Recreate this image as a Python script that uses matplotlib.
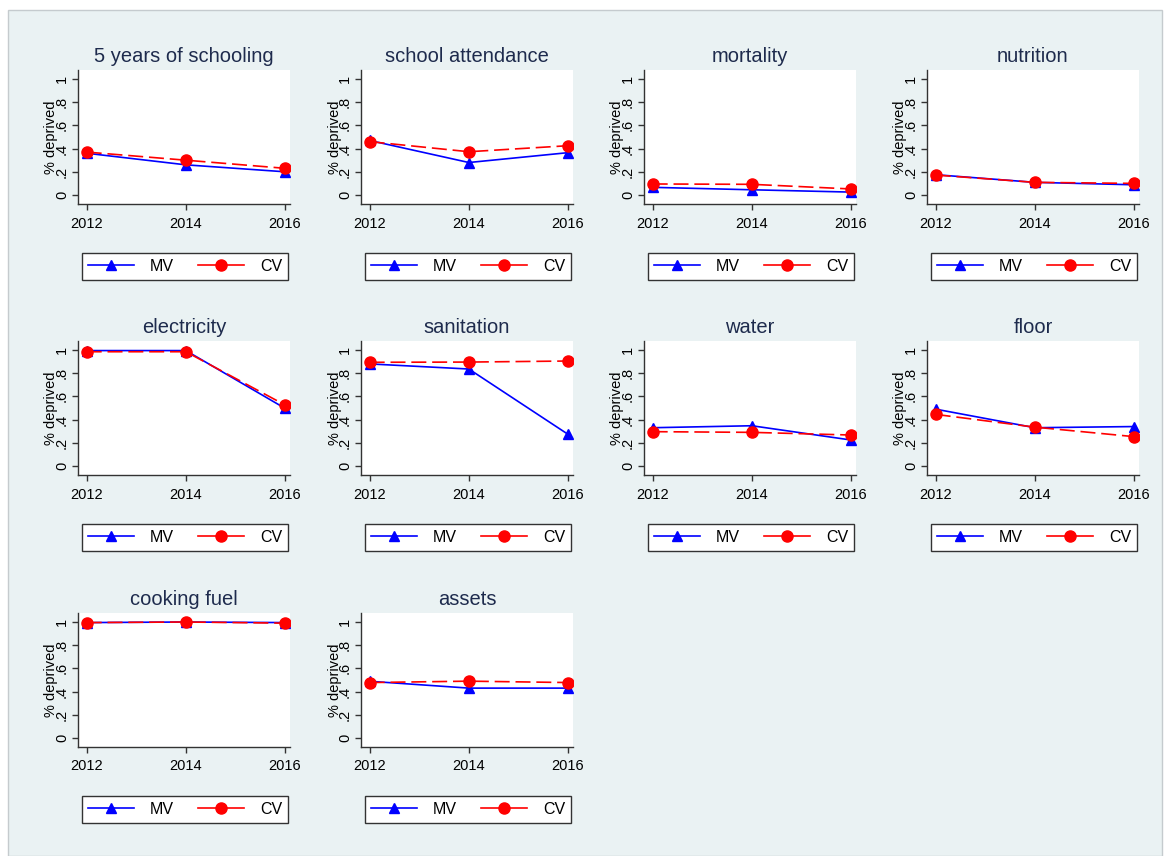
import matplotlib
matplotlib.use("Agg")
import matplotlib.pyplot as plt
from matplotlib.patches import Rectangle
from matplotlib.lines import Line2D

plt.rcParams['font.family'] = ['Liberation Sans', 'DejaVu Sans']

years = [2012, 2014, 2016]
titles = ["5 years of schooling", "school attendance", "mortality", "nutrition",
          "electricity", "sanitation", "water", "floor",
          "cooking fuel", "assets"]

mv_schooling = [0.36, 0.26, 0.20]
cv_schooling = [0.37, 0.30, 0.23]
mv_attendance = [0.47, 0.28, 0.365]
cv_attendance = [0.46, 0.373, 0.425]
mv_mortality = [0.066, 0.045, 0.025]
cv_mortality = [0.095, 0.092, 0.052]
mv_nutrition = [0.175, 0.109, 0.088]
cv_nutrition = [0.172, 0.109, 0.10]
mv_electricity = [0.995, 0.995, 0.497]
cv_electricity = [0.985, 0.985, 0.526]
mv_sanitation = [0.88, 0.836, 0.273]
cv_sanitation = [0.894, 0.896, 0.905]
mv_water = [0.33, 0.347, 0.224]
cv_water = [0.296, 0.29, 0.267]
mv_floor = [0.49, 0.33, 0.34]
cv_floor = [0.445, 0.335, 0.253]
mv_cooking = [0.995, 1.0, 0.995]
cv_cooking = [0.995, 1.0, 0.99]
mv_assets = [0.489, 0.43, 0.43]
cv_assets = [0.478, 0.49, 0.478]

mv_all = [mv_schooling, mv_attendance, mv_mortality, mv_nutrition, mv_electricity,
          mv_sanitation, mv_water, mv_floor, mv_cooking, mv_assets]
cv_all = [cv_schooling, cv_attendance, cv_mortality, cv_nutrition, cv_electricity,
          cv_sanitation, cv_water, cv_floor, cv_cooking, cv_assets]

yticks = [0, 0.2, 0.4, 0.6, 0.8, 1.0]
ytick_labels = ["0", ".2", ".4", ".6", ".8", "1"]
legend_labels = ["MV", "CV"]

W, H = 1164, 856
fig = plt.figure(figsize=(W / 100, H / 100), dpi=100)
fig.patch.set_facecolor("white")
bg = "#EAF2F3"
fig.patches.append(Rectangle((8 / W, 0), (1162 - 8) / W, (H - 10) / H,
                             transform=fig.transFigure, facecolor=bg,
                             edgecolor="#C5CBCE", linewidth=1.0, zorder=-10))

title_color = "#1E2B4D"
axis_color = "#333333"
blue = "#0000FF"
red = "#FF0000"

col_left = [78, 361, 644, 927]
row_top = [70, 341, 613]
aw, ah = 212, 134

for i, t in enumerate(titles):
    r, c = divmod(i, 4)
    x0 = col_left[c]
    y0 = row_top[r]
    ax = fig.add_axes([x0 / W, 1 - (y0 + ah) / H, aw / W, ah / H])
    ax.set_facecolor("white")
    ax.plot(years, mv_all[i], color=blue, lw=1.2, marker="^", markersize=7.5,
            markerfacecolor=blue, markeredgecolor=blue, zorder=3)
    ax.plot(years, cv_all[i], color=red, lw=1.2, dashes=(9, 3.5), marker="o",
            markersize=8, markerfacecolor=red, markeredgecolor=red, zorder=4)
    ax.set_xlim(2011.825, 2016.1)
    ax.set_ylim(-0.0776, 1.0776)
    ax.set_xticks(years)
    ax.set_xticklabels([str(y) for y in years], fontsize=10.5)
    ax.set_yticks(yticks)
    ax.set_yticklabels(ytick_labels, fontsize=10.5, rotation=90, va="center")
    for s in ["top", "right"]:
        ax.spines[s].set_visible(False)
    for s in ["left", "bottom"]:
        ax.spines[s].set_color(axis_color)
        ax.spines[s].set_linewidth(1.0)
    ax.tick_params(axis="y", direction="out", length=4.5, width=1.0,
                   color=axis_color, pad=2, labelcolor="black")
    ax.tick_params(axis="x", direction="out", length=4.5, width=1.0,
                   color=axis_color, pad=4.5, labelcolor="black")
    ax.set_title(t, fontsize=14.5, color=title_color, pad=5.5)
    ax.text(-0.125, 0.5, "% deprived", transform=ax.transAxes, rotation=90,
            ha="center", va="center", fontsize=10.5)

    # legend box
    lx0 = (x0 + 4) / W
    ly0 = 1 - (y0 + 210) / H
    lw_ = 206 / W
    lh_ = 27 / H
    handles = [
        Line2D([], [], color=blue, lw=1.2, marker="^", markersize=7.5),
        Line2D([], [], color=red, lw=1.2, marker="o", markersize=8),
    ]
    leg = fig.legend(handles, legend_labels, loc="center",
                     bbox_to_anchor=(lx0, ly0, lw_, lh_), mode="expand", ncol=2,
                     fontsize=11.5, frameon=True, fancybox=False,
                     handlelength=2.9, handletextpad=1.0, columnspacing=2.0,
                     borderpad=0.35, borderaxespad=0)
    leg.get_frame().set_edgecolor("#333333")
    leg.get_frame().set_linewidth(1.0)
    leg.get_frame().set_facecolor("white")
    leg.get_frame().set_alpha(1.0)

fig.savefig("out.png", dpi=100, facecolor=fig.get_facecolor())
